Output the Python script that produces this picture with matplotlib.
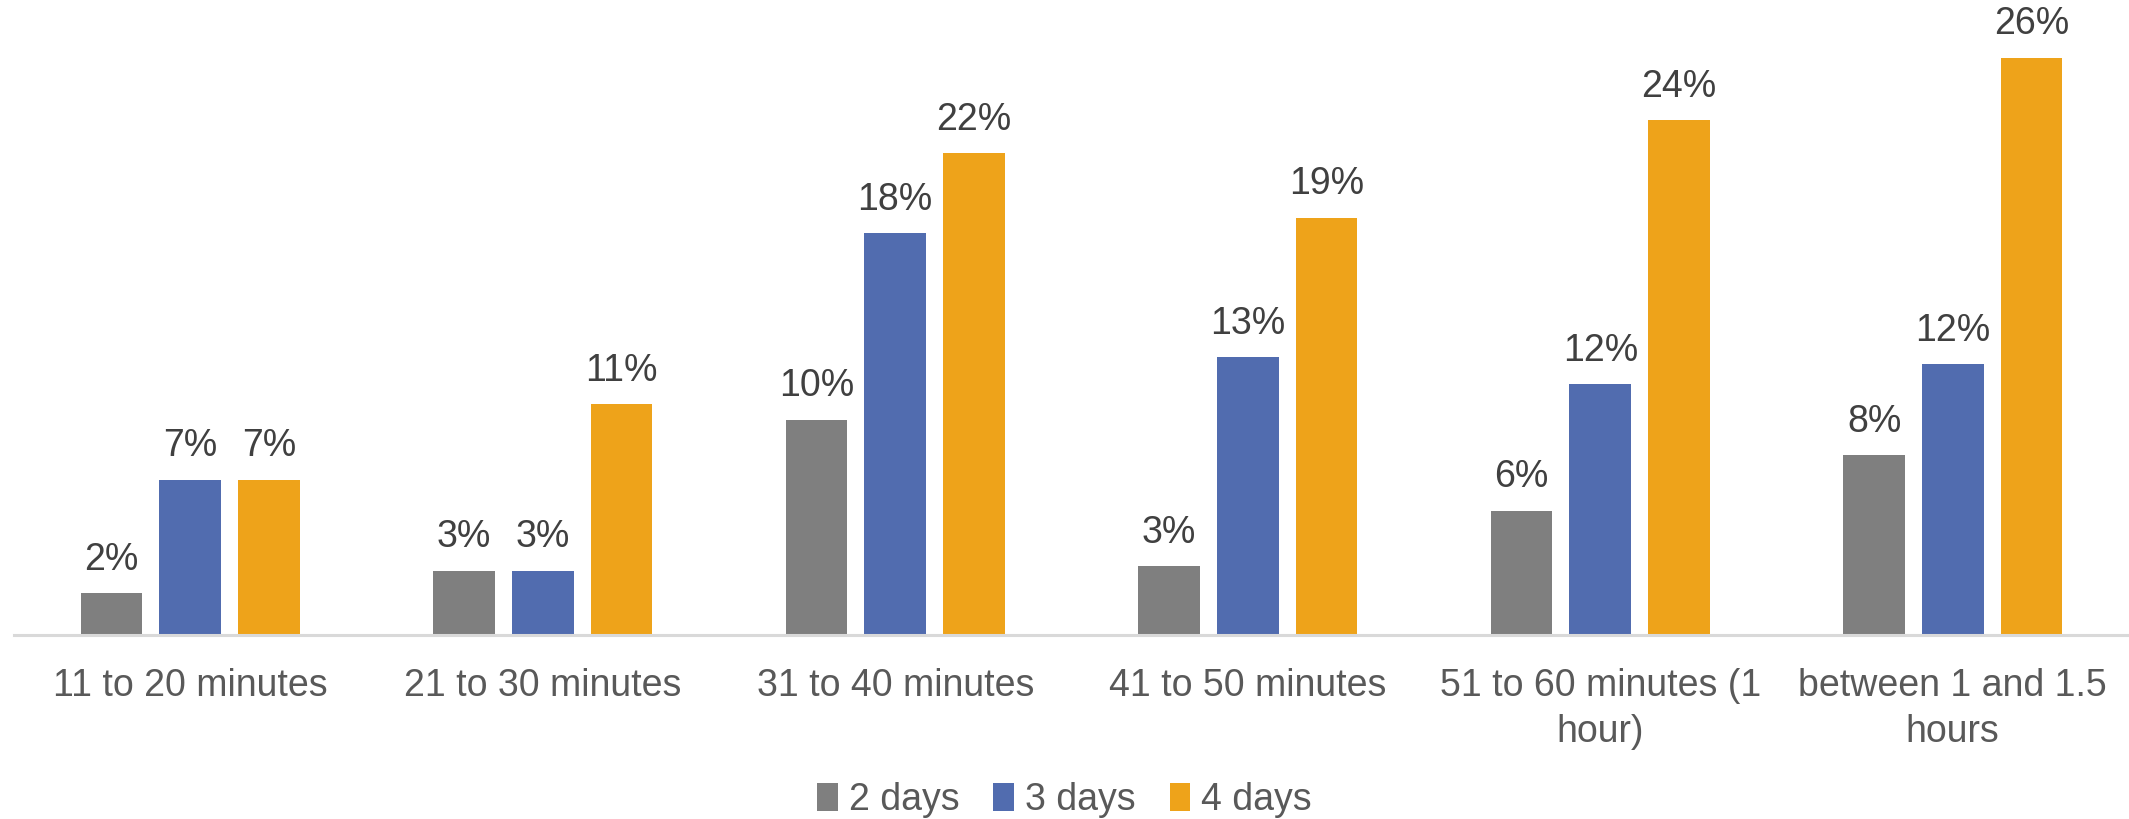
import matplotlib.pyplot as plt
import numpy as np

plt.rcParams['font.family'] = ['Liberation Sans', 'DejaVu Sans']

categories = ["11 to 20 minutes", "21 to 30 minutes", "31 to 40 minutes",
              "41 to 50 minutes", "51 to 60 minutes (1\nhour)", "between 1 and 1.5\nhours"]
series_names = ["2 days", "3 days", "4 days"]
days2 = [1.9, 2.9, 9.7, 3.1, 5.6, 8.1]
days3 = [7.0, 2.9, 18.1, 12.5, 11.3, 12.2]
days4 = [7.0, 10.4, 21.7, 18.8, 23.2, 26.0]
labels2 = ["2%", "3%", "10%", "3%", "6%", "8%"]
labels3 = ["7%", "3%", "18%", "13%", "12%", "12%"]
labels4 = ["7%", "11%", "22%", "19%", "24%", "26%"]
colors = ["#7F7F7F", "#516CAF", "#EEA31A"]

fig = plt.figure(figsize=(21.29, 8.19), dpi=100)
ax = fig.add_axes([14/2129, 184/819, 2115/2129, 635/819])

x = np.arange(len(categories))
offsets = [-0.223, 0, 0.223]
width = 0.175
for vals, labs, off, col, name in zip([days2, days3, days4], [labels2, labels3, labels4],
                                      offsets, colors, series_names):
    bars = ax.bar(x + off, vals, width, color=col, label=name)
    for b, lab in zip(bars, labs):
        ax.annotate(lab, (b.get_x() + b.get_width()/2, b.get_height()),
                    xytext=(0, 11), textcoords="offset points",
                    ha="center", va="bottom", fontsize=27, color="#404040")

ax.set_xlim(-0.5, 5.5)
ax.set_ylim(0, 28.6)
ax.set_xticks(x)
ax.set_xticklabels(categories, fontsize=27, color="#595959", linespacing=1.35)
ax.tick_params(axis="x", length=0, pad=24)
ax.set_yticks([])
for s in ["top", "right", "left"]:
    ax.spines[s].set_visible(False)
ax.spines["bottom"].set_color("#D9D9D9")
ax.spines["bottom"].set_linewidth(2.2)

leg = fig.legend(loc="lower center", ncol=3, frameon=False, fontsize=27,
                 handlelength=0.55, handleheight=0.75, handletextpad=0.3,
                 columnspacing=0.9, bbox_to_anchor=(0.5, -0.04), labelcolor="#595959")

fig.savefig("out.png", dpi=100)
